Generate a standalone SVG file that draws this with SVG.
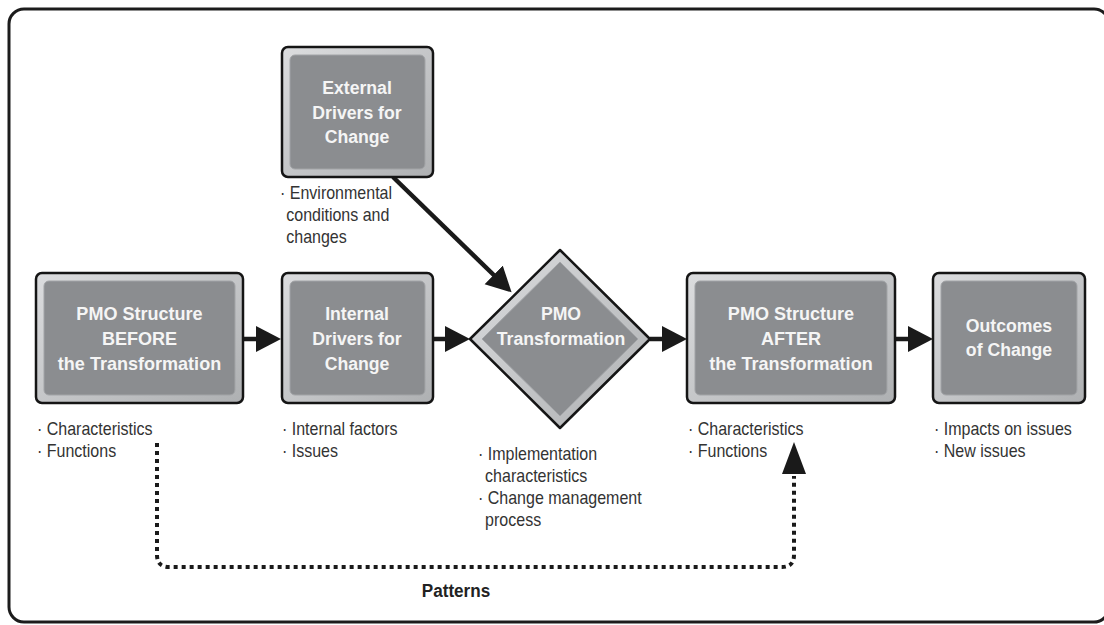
<svg xmlns="http://www.w3.org/2000/svg" width="1104" height="625" viewBox="0 0 1104 625">
  <defs>
    <style>
      .frame { fill: none; stroke: #1c1c1c; stroke-width: 3; }
      .outer { fill: url(#bevel); stroke: #151515; stroke-width: 2.5; }
      .inner { fill: #8b8d90; stroke: #a2a4a7; stroke-width: 1; }
      .title { font-family: "Liberation Sans", Arial, sans-serif; font-weight: bold; font-size: 19px; fill: #f5f5f5; text-anchor: middle; }
      .body { font-family: "Liberation Sans", Arial, sans-serif; font-size: 18px; fill: #333333; }
      .label { font-family: "Liberation Sans", Arial, sans-serif; font-weight: bold; font-size: 19px; fill: #222; text-anchor: middle; }
      .flow { fill: none; stroke: #1a1a1a; stroke-width: 4.5; }
      .dots { fill: none; stroke: #1a1a1a; stroke-width: 4; stroke-dasharray: 4 4; }
    </style>
    <linearGradient id="bevel" x1="0" y1="0" x2="1" y2="1">
      <stop offset="0" stop-color="#dcdddf"/>
      <stop offset="1" stop-color="#aeb0b2"/>
    </linearGradient>
    <marker id="head" markerUnits="userSpaceOnUse" markerWidth="26" markerHeight="28" refX="13" refY="13" orient="auto">
      <path d="M0,0 L25,13 L0,26 z" fill="#1a1a1a"/>
    </marker>
  </defs>

  <rect width="1104" height="625" fill="#ffffff"/>
  <rect class="frame" x="9" y="9" width="1100" height="613" rx="15"/>

  <!-- connectors -->
  <g id="connectors">
    <path class="flow" d="M243,339 H269" marker-end="url(#head)"/>
    <path class="flow" d="M433,339 H458" marker-end="url(#head)"/>
    <path class="flow" d="M650,339 H675" marker-end="url(#head)"/>
    <path class="flow" d="M895,339 H921" marker-end="url(#head)"/>
    <path class="flow" d="M393,177 L503,284" marker-end="url(#head)"/>
    <path class="dots" d="M157,443 V555 Q157,567 169,567 H782 Q794,567 794,555 V476"/>
    <polygon points="794,442 782,474 806,474" fill="#1a1a1a"/>
    <text class="label" transform="translate(456,597) scale(0.9,1)">Patterns</text>
  </g>

  <!-- external drivers -->
  <g id="external">
    <rect class="outer" x="282" y="47" width="151" height="130" rx="6"/>
    <rect class="inner" x="290" y="55" width="135" height="114" rx="5"/>
    <g class="title" transform="translate(357,0) scale(0.93,1)">
      <text x="0" y="94">External</text>
      <text x="0" y="119">Drivers for</text>
      <text x="0" y="143">Change</text>
    </g>
    <g class="body" transform="translate(280,0) scale(0.89,1)">
      <text x="0" y="199">· Environmental</text>
      <text x="7" y="221">conditions and</text>
      <text x="7" y="243">changes</text>
    </g>
  </g>

  <!-- structure before -->
  <g id="before">
    <rect class="outer" x="36" y="273" width="207" height="130" rx="6"/>
    <rect class="inner" x="44" y="281" width="191" height="114" rx="5"/>
    <g class="title" transform="translate(139.5,0) scale(0.95,1)">
      <text x="0" y="320">PMO Structure</text>
      <text x="0" y="345">BEFORE</text>
      <text x="0" y="370">the Transformation</text>
    </g>
    <g class="body" transform="translate(37,0) scale(0.89,1)">
      <text x="0" y="435">· Characteristics</text>
      <text x="0" y="457">· Functions</text>
    </g>
  </g>

  <!-- internal drivers -->
  <g id="internal">
    <rect class="outer" x="282" y="273" width="151" height="130" rx="6"/>
    <rect class="inner" x="290" y="281" width="135" height="114" rx="5"/>
    <g class="title" transform="translate(357,0) scale(0.93,1)">
      <text x="0" y="320">Internal</text>
      <text x="0" y="345">Drivers for</text>
      <text x="0" y="370">Change</text>
    </g>
    <g class="body" transform="translate(282,0) scale(0.89,1)">
      <text x="0" y="435">· Internal factors</text>
      <text x="0" y="457">· Issues</text>
    </g>
  </g>

  <!-- transformation decision -->
  <g id="transformation">
    <polygon class="outer" points="560,250 650,339 560,428 470,339" stroke-linejoin="round"/>
    <polygon class="inner" points="560,262 638,339 560,416 482,339" stroke-linejoin="round"/>
    <g class="title" transform="translate(561,0) scale(0.93,1)">
      <text x="0" y="320">PMO</text>
      <text x="0" y="345">Transformation</text>
    </g>
    <g class="body" transform="translate(478,0) scale(0.89,1)">
      <text x="0" y="460">· Implementation</text>
      <text x="8" y="482">characteristics</text>
      <text x="0" y="504">· Change management</text>
      <text x="8" y="526">process</text>
    </g>
  </g>

  <!-- structure after -->
  <g id="after">
    <rect class="outer" x="687" y="273" width="208" height="130" rx="6"/>
    <rect class="inner" x="695" y="281" width="192" height="114" rx="5"/>
    <g class="title" transform="translate(791,0) scale(0.95,1)">
      <text x="0" y="320">PMO Structure</text>
      <text x="0" y="345">AFTER</text>
      <text x="0" y="370">the Transformation</text>
    </g>
    <g class="body" transform="translate(688,0) scale(0.89,1)">
      <text x="0" y="435">· Characteristics</text>
      <text x="0" y="457">· Functions</text>
    </g>
  </g>

  <!-- outcomes -->
  <g id="outcomes">
    <rect class="outer" x="933" y="273" width="152" height="130" rx="6"/>
    <rect class="inner" x="941" y="281" width="136" height="114" rx="5"/>
    <g class="title" transform="translate(1009,0) scale(0.93,1)">
      <text x="0" y="332">Outcomes</text>
      <text x="0" y="356">of Change</text>
    </g>
    <g class="body" transform="translate(934,0) scale(0.89,1)">
      <text x="0" y="435">· Impacts on issues</text>
      <text x="0" y="457">· New issues</text>
    </g>
  </g>
</svg>
